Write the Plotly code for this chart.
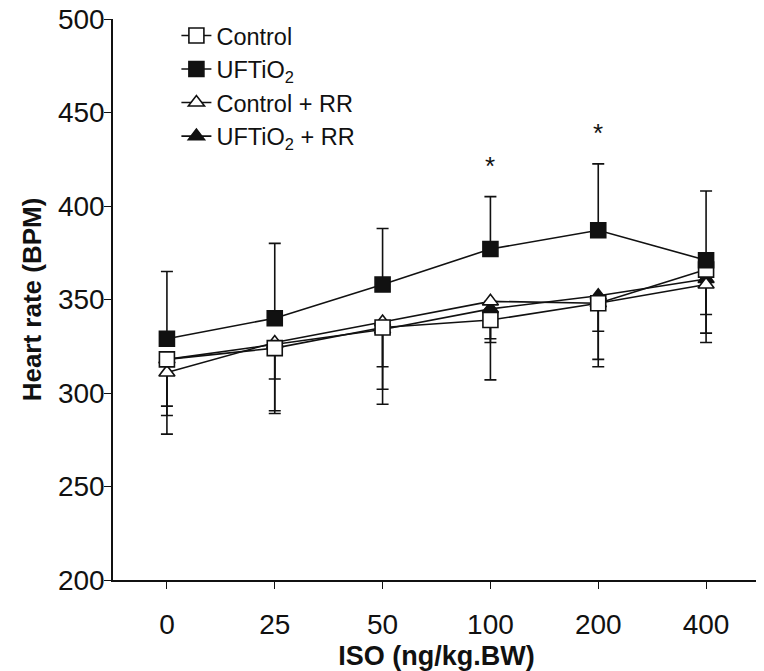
import plotly.graph_objects as go

# ---- data ----
categories = ["0", "25", "50", "100", "200", "400"]

control = [318, 324, 335, 339, 348, 366]
control_sd = [40, 35, 41, 32, 34, 39]

uftio2 = [329, 340, 358, 377, 387, 371]
uftio2_sd = [36, 40, 30, 28, 35.5, 37]

control_rr = [311, 327, 338, 349, 348, 358]
control_rr_sd = [18, 19.5, 24, 22, 15, 16]

uftio2_rr = [318, 326, 334, 345, 352, 361]
uftio2_rr_sd = [30, 35.5, 32, 16, 34, 29]

significant = ["100", "200"]

y_ticks = [200, 250, 300, 350, 400, 450, 500]

series_names = ["Control", "UFTiO<sub>2</sub>", "Control + RR", "UFTiO<sub>2</sub> + RR"]

INK = "#111111"
FONT = "Liberation Sans, Arial, sans-serif"

xpos = list(range(len(categories)))

# name, values, sd, symbol, fill, error direction (True = up), legend rank
series = [
    (series_names[3], uftio2_rr, uftio2_rr_sd, "triangle-up", INK, False, 4),
    (series_names[2], control_rr, control_rr_sd, "triangle-up", "white", False, 3),
    (series_names[0], control, control_sd, "square", "white", False, 1),
    (series_names[1], uftio2, uftio2_sd, "square", INK, True, 2),
]

fig = go.Figure()

# lines + error bars first (underneath all markers)
for name, vals, sd, sym, fill, up, rank in series:
    err = dict(type="data", symmetric=False, color=INK, thickness=1.6, width=6)
    if up:
        err["array"] = sd
        err["arrayminus"] = [0] * len(sd)
    else:
        err["array"] = [0] * len(sd)
        err["arrayminus"] = sd
    fig.add_trace(go.Scatter(
        x=xpos, y=vals, mode="lines", showlegend=False,
        line=dict(color=INK, width=1.6), error_y=err, hoverinfo="skip"))

# markers on top
for name, vals, sd, sym, fill, up, rank in series:
    size = 15 if sym == "square" else 14
    fig.add_trace(go.Scatter(
        x=xpos, y=vals, mode="markers", showlegend=False, name=name,
        marker=dict(symbol=sym, size=size, color=fill,
                    line=dict(color=INK, width=1.6))))

# legend entries
for name, vals, sd, sym, fill, up, rank in series:
    size = 15 if sym == "square" else 14
    fig.add_trace(go.Scatter(
        x=[None], y=[None], mode="lines+markers", name=name, legendrank=rank,
        line=dict(color=INK, width=1.6),
        marker=dict(symbol=sym, size=size, color=fill,
                    line=dict(color=INK, width=1.6))))

# significance asterisks
for cat in significant:
    i = categories.index(cat)
    fig.add_annotation(x=i, y=uftio2[i] + uftio2_sd[i], text="*",
                       showarrow=False, yanchor="middle", yshift=31,
                       font=dict(size=26, color=INK, family=FONT))

# page body adds an 8px offset, so the figure is 8px smaller on each side
fig.update_layout(
    width=756, height=663,
    margin=dict(l=105, r=4, t=11, b=91),
    paper_bgcolor="white", plot_bgcolor="white",
    font=dict(family=FONT, size=26, color=INK),
    legend=dict(x=0.098, y=1.0095, xanchor="left", yanchor="top",
                bgcolor="rgba(0,0,0,0)", font=dict(size=23.5),
                itemwidth=30, tracegroupgap=0),
)

fig.update_xaxes(
    range=[-0.5, 5.5], tickvals=xpos, ticktext=categories,
    showgrid=False, zeroline=False, automargin=False,
    showline=True, linecolor=INK, linewidth=1.6,
    ticks="outside", ticklen=7, tickwidth=1.4, tickcolor=INK,
    tickfont=dict(size=28), ticklabelstandoff=12, ticklabeloverflow="allow",
    title=dict(text="<b>ISO (ng/kg.BW)</b>", font=dict(size=27), standoff=34),
)
fig.update_yaxes(
    range=[200, 500], tickvals=y_ticks,
    showgrid=False, zeroline=False, automargin=False,
    showline=True, linecolor=INK, linewidth=1.6,
    ticks="outside", ticklen=7, tickwidth=1.4, tickcolor=INK,
    tickfont=dict(size=28), ticklabelstandoff=-6, ticklabeloverflow="allow",
    title=dict(text="<b>Heart rate (BPM)</b>", font=dict(size=26), standoff=9),
)

fig.write_html("out.html")
